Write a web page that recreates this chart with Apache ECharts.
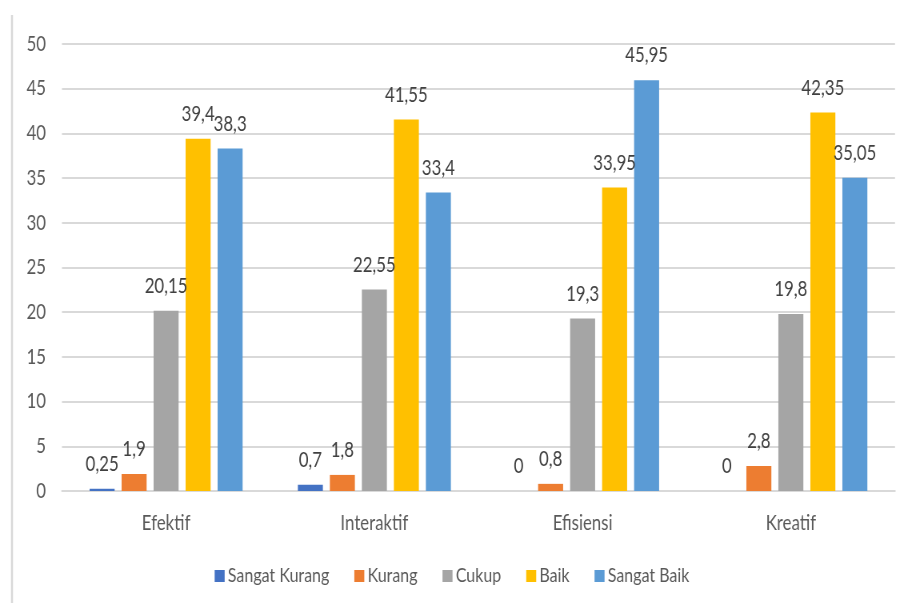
<!DOCTYPE html>
<html>
<head>
<meta charset="utf-8">
<script src="https://cdn.jsdelivr.net/npm/echarts@6/dist/echarts.min.js"></script>
<style>
html,body{margin:0;padding:0;background:#fff;overflow:hidden;}
#wrap{width:904px;height:603px;overflow:hidden;}
#c{width:1130px;height:603px;transform:scaleX(0.8);transform-origin:0 0;}
</style>
</head>
<body>
<div id="wrap"><div id="c"></div></div>
<script>
var categories = ['Efektif', 'Interaktif', 'Efisiensi', 'Kreatif'];
var seriesNames = ['Sangat Kurang', 'Kurang', 'Cukup', 'Baik', 'Sangat Baik'];
var sangatKurang = [0.25, 0.7, 0, 0];
var kurang = [1.9, 1.8, 0.8, 2.8];
var cukup = [20.15, 22.55, 19.3, 19.8];
var baik = [39.4, 41.55, 33.95, 42.35];
var sangatBaik = [38.3, 33.4, 45.95, 35.05];
var yTicks = [0, 5, 10, 15, 20, 25, 30, 35, 40, 45, 50];

var colors = ['#4472C4', '#ED7D31', '#A5A5A5', '#FFC000', '#5B9BD5'];
var FONT = 'Lato, "Noto Sans", sans-serif';
var allData = [sangatKurang, kurang, cukup, baik, sangatBaik];
var S = 0.8; // horizontal squeeze of the reference picture

var chart = echarts.init(document.getElementById('c'));
chart.setOption({
  animation: false,
  color: colors,
  textStyle: { fontFamily: FONT },
  grid: { left: 62 / S, right: 9 / S, top: 44, bottom: 112, containLabel: false },
  legend: {
    data: seriesNames,
    bottom: 12,
    left: 'center',
    itemWidth: 10 / S,
    itemHeight: 12,
    itemGap: 25 / S,
    icon: 'rect',
    textStyle: { fontFamily: FONT, fontSize: 20, color: '#595959', padding: [0, 0, 0, -1] }
  },
  graphic: [{
    type: 'line',
    shape: { x1: 12 / S, y1: 15, x2: 12 / S, y2: 603 },
    style: { stroke: '#d9d9d9', lineWidth: 2 / S }
  }],
  xAxis: {
    type: 'category',
    data: categories,
    axisTick: { show: false },
    axisLine: { lineStyle: { color: '#d9d9d9', width: 2 } },
    axisLabel: { fontFamily: FONT, fontSize: 21, color: '#595959', margin: 22 }
  },
  yAxis: {
    type: 'value',
    min: yTicks[0],
    max: yTicks[yTicks.length - 1],
    interval: 5,
    axisLine: { show: false },
    axisTick: { show: false },
    splitLine: { lineStyle: { color: '#d9d9d9', width: 2 } },
    axisLabel: { fontFamily: FONT, fontSize: 21, color: '#595959', margin: 16 / S }
  },
  series: seriesNames.map(function (name, i) {
    return {
      name: name,
      type: 'bar',
      data: allData[i],
      barWidth: 25 / S,
      barGap: '28%',
      itemStyle: { color: colors[i] },
      label: {
        show: true,
        position: 'top',
        distance: 14,
        fontFamily: FONT,
        fontSize: 21,
        color: '#404040',
        formatter: function (p) { return String(p.value).replace('.', ','); }
      }
    };
  })
});
</script>
</body>
</html>
